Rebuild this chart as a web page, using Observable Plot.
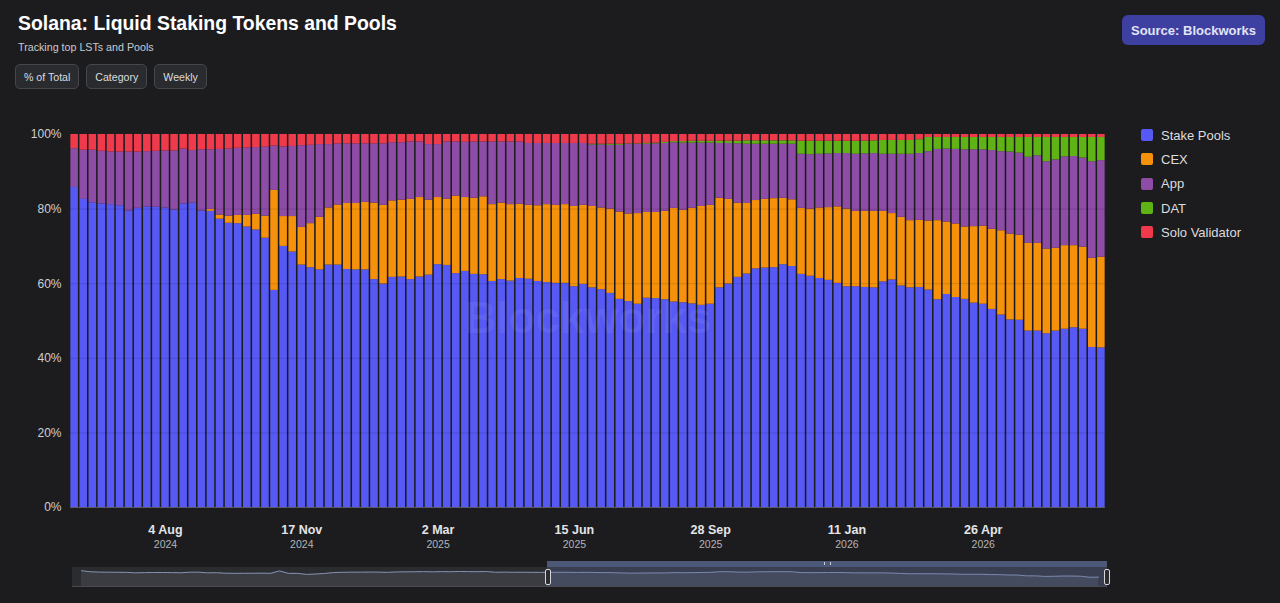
<!DOCTYPE html>
<html>
<head>
<meta charset="utf-8">
<script src="https://cdn.jsdelivr.net/npm/d3@7"></script>
<script src="https://cdn.jsdelivr.net/npm/@observablehq/plot@0.6"></script>
<style>
  html, body { margin: 0; padding: 0; }
  body { width: 1280px; height: 603px; overflow: hidden; background: #1c1c1f; position: relative;
         font-family: "Liberation Sans", Arial, Helvetica, sans-serif; color: #e6e6e8; }
  #title { position: absolute; left: 18px; top: 12px; font-size: 19.4px; font-weight: 700; color: #ffffff; }
  #subtitle { position: absolute; left: 18px; top: 41px; font-size: 10.7px; color: #c9c9cc; }
  .btns { position: absolute; left: 15px; top: 64px; display: flex; gap: 7px; }
  .btn { height: 23px; padding: 0 8px; border: 1px solid #46474c; background: #2a2b2f; border-radius: 5px;
         font-size: 10.6px; color: #dcdcdf; display: flex; align-items: center; }
  #source { position: absolute; left: 1122px; top: 15px; width: 143px; height: 30px; border-radius: 6px; background: #3d40a1;
            color: #e3e3f7; font-size: 13px; font-weight: 700; display: flex; align-items: center; justify-content: center; }
  #legend { position: absolute; left: 1141px; top: 123px; }
  .li { display: flex; align-items: center; height: 24.3px; font-size: 13px; color: #dcdcdf; }
  .sw { width: 12px; height: 12px; border-radius: 2px; margin-right: 8px; }
  #chart { position: absolute; left: 0; top: 120px; }
  #navbox { position: absolute; left: 72px; top: 567px; width: 1035px; height: 19px; background: #2b2c30; border-bottom: 1px solid #4a4b50; }
  #navplot { position: absolute; left: 0; top: 567px; }
  #navsel { position: absolute; left: 547px; top: 561px; width: 560px; height: 25px; background: rgba(95,115,170,0.28); }
  #navbar { position: absolute; left: 547px; top: 561px; width: 560px; height: 6px; background: #4c5878; }
  #navgrip { position: absolute; left: 824px; top: 562px; width: 5px; height: 3px; border-left: 1px solid #ccd; border-right: 1px solid #ccd; }
  .handle { position: absolute; top: 569px; width: 4px; height: 14px; background: #2b2c30; border: 1px solid #d5d5da; border-radius: 2px; }
</style>
</head>
<body>
<div id="title">Solana: Liquid Staking Tokens and Pools</div>
<div id="subtitle">Tracking top LSTs and Pools</div>
<div class="btns"><div class="btn">% of Total</div><div class="btn">Category</div><div class="btn">Weekly</div></div>
<div id="source">Source: Blockworks</div>
<div id="legend"></div>
<div id="chart"></div>
<div id="navbox"></div>
<div id="navplot"></div>
<div id="navsel"></div>
<div id="navbar"></div>
<div id="navgrip"></div>
<div class="handle" style="left:545px"></div>
<div class="handle" style="left:1104px"></div>
<script>
const categories = ["Stake Pools", "CEX", "App", "DAT", "Solo Validator"];
const colors = ["#5659f4", "#f5910a", "#8d4ca6", "#5fb314", "#ef3a4c"];

const firstWeek = "2024-05-26";
const endWeek = "2026-08-02";

const stakePools = [
  85.8, 82.6, 81.7, 81.4, 81.2, 80.9, 79.5, 80.2, 80.6, 80.5,
  80.3, 79.7, 81.3, 81.5, 79.5, 79.4, 77.3, 76.2, 76.1, 75.2,
  74.4, 72.2, 58.2, 70.0, 68.5, 65.0, 64.3, 63.7, 65.0, 65.0,
  63.8, 63.7, 63.7, 61.1, 59.9, 61.7, 61.8, 61.1, 61.8, 62.3,
  65.1, 64.9, 62.7, 63.3, 62.5, 62.4, 60.6, 61.1, 60.7, 61.4,
  61.2, 60.6, 60.3, 60.1, 60.1, 59.2, 59.8, 58.9, 58.4, 57.4,
  55.8, 55.2, 54.5, 56.1, 56.0, 55.7, 55.1, 54.9, 54.6, 54.2,
  54.5, 58.9, 59.9, 61.7, 62.6, 64.0, 64.2, 64.3, 65.1, 64.6,
  62.5, 62.0, 61.4, 60.9, 60.1, 59.2, 59.2, 59.0, 58.9, 60.5,
  61.0, 59.4, 58.9, 59.0, 58.3, 55.7, 57.1, 56.3, 55.8, 54.8,
  54.5, 53.1, 51.6, 50.3, 50.2, 47.3, 47.3, 46.6, 47.3, 47.8,
  48.2, 47.8, 42.9, 42.8
];
const cex = [
  0, 0, 0, 0, 0, 0, 0, 0, 0, 0,
  0, 0, 0, 0, 0, 0.5, 1.1, 1.9, 2.2, 3.1,
  4.2, 5.9, 26.8, 8.0, 9.5, 10.1, 11.8, 14.1, 15.3, 16.1,
  17.7, 17.8, 18.1, 20.5, 21.1, 20.5, 20.6, 21.5, 21.3, 20.1,
  18.0, 17.8, 20.8, 19.8, 20.4, 20.9, 20.6, 20.5, 20.5, 19.9,
  19.8, 20.3, 20.9, 20.9, 21.1, 21.5, 21.2, 21.8, 21.9, 22.6,
  23.4, 23.5, 24.3, 23.0, 23.1, 23.7, 25.1, 24.8, 25.6, 26.5,
  26.5, 24.0, 22.7, 19.9, 18.9, 18.3, 18.4, 18.5, 17.8, 17.9,
  17.7, 18.0, 18.9, 19.5, 20.5, 20.8, 20.2, 20.4, 20.5, 18.9,
  17.8, 18.4, 18.0, 18.0, 18.5, 21.2, 19.4, 19.7, 19.4, 20.5,
  20.9, 21.5, 22.6, 23.0, 22.8, 23.5, 23.5, 22.7, 22.2, 22.4,
  22.0, 22.0, 23.9, 24.3
];
const app = [
  10.4, 13.2, 14.1, 14.1, 14.1, 14.4, 15.8, 15.1, 14.8, 15.0,
  15.3, 15.9, 14.7, 14.1, 16.4, 16.0, 17.6, 18.0, 18.0, 18.1,
  17.9, 18.5, 11.9, 18.7, 18.8, 21.9, 21.0, 19.5, 17.0, 16.4,
  16.0, 16.0, 15.7, 15.9, 16.5, 15.6, 15.4, 15.4, 14.9, 14.9,
  14.2, 15.3, 14.5, 14.8, 15.1, 14.7, 16.8, 16.4, 16.8, 16.7,
  16.6, 16.7, 16.4, 16.6, 16.4, 16.9, 16.6, 16.5, 16.9, 17.1,
  17.9, 18.7, 18.6, 18.3, 18.4, 18.2, 17.6, 18.0, 17.5, 17.0,
  16.7, 14.7, 15.0, 15.9, 15.9, 15.1, 14.8, 14.6, 14.5, 14.9,
  14.5, 14.6, 14.4, 14.4, 14.3, 14.9, 15.3, 15.4, 15.5, 15.3,
  15.9, 16.9, 17.8, 17.9, 18.6, 19.1, 19.6, 20.0, 20.7, 20.6,
  20.5, 21.1, 21.2, 22.0, 22.0, 23.1, 23.5, 23.4, 23.7, 23.8,
  23.9, 23.9, 25.9, 25.9
];
const dat = [
  0, 0, 0, 0, 0, 0, 0, 0, 0, 0,
  0, 0, 0, 0, 0, 0, 0, 0, 0, 0,
  0, 0, 0, 0, 0, 0, 0, 0, 0, 0,
  0, 0, 0, 0, 0, 0, 0, 0, 0, 0,
  0, 0, 0, 0, 0, 0, 0, 0, 0, 0,
  0, 0, 0, 0, 0, 0, 0, 0.2, 0.2, 0.3,
  0.3, 0.1, 0.1, 0.2, 0.2, 0.3, 0.3, 0.4, 0.5, 0.5,
  0.5, 0.6, 0.6, 0.7, 0.9, 0.9, 0.9, 0.9, 0.9, 0.9,
  3.5, 3.6, 3.5, 3.4, 3.3, 3.3, 3.5, 3.4, 3.4, 3.7,
  3.7, 3.7, 3.7, 3.7, 3.8, 3.2, 3.1, 3.2, 3.3, 3.3,
  3.3, 3.5, 3.8, 3.9, 4.2, 5.3, 4.9, 6.5, 6.0, 5.2,
  5.1, 5.5, 6.5, 6.2
];
const soloValidator = [
  3.8, 4.2, 4.2, 4.5, 4.7, 4.7, 4.7, 4.7, 4.6, 4.5,
  4.4, 4.4, 3.9, 4.3, 4.1, 4.1, 4.0, 3.9, 3.7, 3.6,
  3.5, 3.4, 3.1, 3.3, 3.2, 3.0, 2.9, 2.7, 2.7, 2.5,
  2.5, 2.5, 2.5, 2.5, 2.5, 2.2, 2.2, 2.0, 2.0, 2.7,
  2.7, 2.0, 2.0, 2.1, 2.0, 2.0, 2.0, 2.0, 2.0, 2.0,
  2.4, 2.4, 2.4, 2.4, 2.4, 2.4, 2.4, 2.6, 2.6, 2.6,
  2.6, 2.5, 2.5, 2.4, 2.3, 2.1, 1.9, 1.9, 1.8, 1.8,
  1.8, 1.8, 1.8, 1.8, 1.7, 1.7, 1.7, 1.7, 1.7, 1.7,
  1.8, 1.8, 1.8, 1.8, 1.8, 1.8, 1.8, 1.8, 1.7, 1.6,
  1.6, 1.6, 1.6, 1.4, 0.8, 0.8, 0.8, 0.8, 0.8, 0.8,
  0.8, 0.8, 0.8, 0.8, 0.8, 0.8, 0.8, 0.8, 0.8, 0.8,
  0.8, 0.8, 0.8, 0.8
];

const tickDates = ["2024-08-04", "2024-11-17", "2025-03-02", "2025-06-15", "2025-09-28", "2026-01-11", "2026-04-26"];
const tickDayLabels = ["4 Aug", "17 Nov", "2 Mar", "15 Jun", "28 Sep", "11 Jan", "26 Apr"];
const tickYearLabels = ["2024", "2024", "2025", "2025", "2025", "2026", "2026"];
const yTicks = [0, 0.2, 0.4, 0.6, 0.8, 1];

// ---- build table ----
const fmt = d3.utcFormat("%Y-%m-%d");
const weeks = d3.utcWeek.range(new Date(firstWeek + "T00:00:00Z"), new Date(endWeek + "T00:00:00Z")).map(fmt);
const series = [stakePools, cex, app, dat, soloValidator];
const rows = [];
categories.forEach((c, i) => weeks.forEach((w, j) => rows.push({week: w, category: c, value: series[i][j]})));

// legend
const legend = document.getElementById("legend");
categories.forEach((c, i) => {
  const row = document.createElement("div");
  row.className = "li";
  row.innerHTML = `<div class="sw" style="background:${colors[i]}"></div><span>${c}</span>`;
  legend.appendChild(row);
});

const font = '"Liberation Sans", Arial, Helvetica, sans-serif';

const chart = Plot.plot({
  width: 1120,
  height: 432,
  marginLeft: 70,
  marginRight: 15,
  marginTop: 14,
  marginBottom: 45,
  style: {background: "transparent", color: "#cfcfd3", fontFamily: font, fontSize: "12px", overflow: "visible"},
  x: {type: "band", domain: weeks, paddingInner: 0.17, paddingOuter: 0.04, round: false, axis: null},
  y: {domain: [0, 1], axis: null},
  color: {domain: categories, range: colors},
  marks: [
    Plot.barY(rows, {x: "week", y: "value", fill: "category", order: categories, offset: "normalize"}),
    Plot.ruleY([0.2, 0.4, 0.6, 0.8], {stroke: "#000", strokeOpacity: 0.12}),
    Plot.ruleY([0], {stroke: "#5c5c62"}),
    Plot.axisY({ticks: yTicks, tickFormat: d3.format(".0%"), tickSize: 0, tickPadding: 9, fontSize: 12, label: null}),
    Plot.text(["Blockworks"], {frameAnchor: "middle", dy: -2, fontSize: 44, fontWeight: 700, fill: "#ffffff", fillOpacity: 0.06}),
    Plot.text(tickDates, {x: d => d, y: () => 0, text: (d, i) => tickDayLabels[i], dy: 22, fontSize: 12.5, fontWeight: 700, fill: "#e4e4e7"}),
    Plot.text(tickDates, {x: d => d, y: () => 0, text: (d, i) => tickYearLabels[i], dy: 37, fontSize: 10.5, fill: "#b4b4b8"})
  ]
});
document.getElementById("chart").appendChild(chart);

// navigator (overview of the combined Stake Pools + CEX share)
const navRows = weeks.map((w, j) => ({week: w, v: stakePools[j] + cex[j]}));
const nav = Plot.plot({
  width: 1120,
  height: 19,
  marginLeft: 72,
  marginRight: 13,
  marginTop: 0,
  marginBottom: 0,
  style: {background: "transparent"},
  x: {type: "point", domain: weeks, padding: 0, axis: null},
  y: {domain: [40, 95], axis: null},
  marks: [
    Plot.areaY(navRows, {x: "week", y: "v", fill: "#3b3c42"}),
    Plot.lineY(navRows, {x: "week", y: "v", stroke: "#8590b0", strokeWidth: 1})
  ]
});
document.getElementById("navplot").appendChild(nav);
</script>
</body>
</html>
